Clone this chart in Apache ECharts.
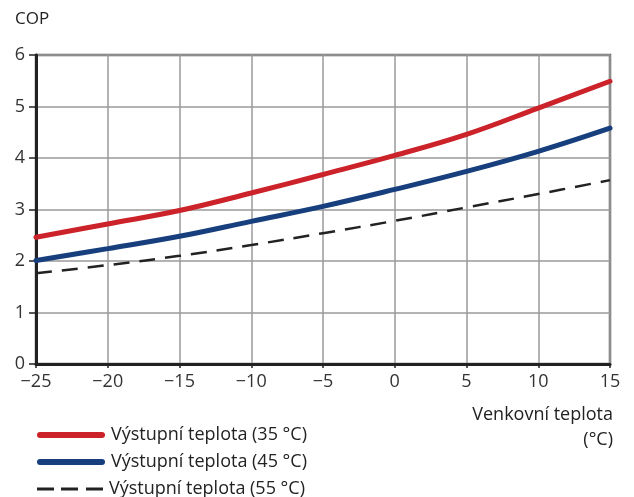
<!DOCTYPE html>
<html>
<head>
<meta charset="utf-8">
<script src="https://cdn.jsdelivr.net/npm/echarts@6/dist/echarts.min.js"></script>
<style>
  html, body { margin: 0; padding: 0; background: #fff; }
  #chart { width: 634px; height: 497px; }
</style>
</head>
<body>
<div id="chart"></div>
<script>
// Outdoor temperature (°C) and COP for three flow temperatures
const temps = [-25, -20, -15, -10, -5, 0, 5, 10, 15];
const cop35 = [2.46, 2.72, 2.98, 3.32, 3.68, 4.05, 4.46, 4.97, 5.49];
const cop45 = [2.01, 2.24, 2.48, 2.77, 3.06, 3.39, 3.74, 4.13, 4.58];
const cop55 = [1.76, 1.92, 2.10, 2.31, 2.54, 2.78, 3.04, 3.30, 3.57];
const yTicks = [0, 1, 2, 3, 4, 5, 6];
const seriesNames = ['Výstupní teplota (35 °C)', 'Výstupní teplota (45 °C)', 'Výstupní teplota (55 °C)'];
const seriesColors = ['#cc2229', '#173f7d', '#222222'];
const xCaption = 'Venkovní teplota\n(°C)';

const font = '"Open Sans", "DejaVu Sans", sans-serif';
const pairs = arr => temps.map((t, i) => [t, arr[i]]);

// legend swatches: a rounded bar for solid lines, three dashes for the dashed one
const solidIcon = 'path://M3,0H65A3,3,0,0,1,65,6H3A3,3,0,0,1,3,0Z';
const dashIcon = 'path://M0,0h17v3h-17z M24,0h17v3h-17z M49,0h17v3h-17z';

// one legend row per series, stacked under the plot
const legendRows = seriesNames.map((name, i) => ({
  orient: 'horizontal', left: 32, top: 421 + i * 27,
  itemWidth: i === 2 ? 66 : 68, itemHeight: i === 2 ? 3 : 6, itemGap: 0,
  textStyle: { fontFamily: font, fontSize: 18, color: '#222', padding: [0, 0, 0, 1] },
  data: [{
    name: name,
    icon: i === 2 ? dashIcon : solidIcon,
    itemStyle: { color: seriesColors[i], borderWidth: 0 }
  }]
}));

const chart = echarts.init(document.getElementById('chart'), null, { renderer: 'canvas' });
chart.setOption({
  animation: false,
  textStyle: { fontFamily: font },
  grid: {
    left: 36, right: 24, top: 55, bottom: 133,
    outerBoundsMode: 'none',
    show: true, borderColor: '#666', borderWidth: 2.5, backgroundColor: 'transparent'
  },
  title: {
    text: 'COP', left: 10, top: 6,
    textStyle: { fontFamily: font, fontSize: 17, fontWeight: 'normal', color: '#222' }
  },
  graphic: [{
    // x-axis caption, right-aligned under the end of the axis
    type: 'text', x: 613, y: 402,
    style: {
      text: xCaption, align: 'right', verticalAlign: 'top',
      font: '18px ' + font, fill: '#222', lineHeight: 25
    }
  }],
  xAxis: {
    type: 'value', min: -25, max: 15, interval: 5,
    axisLine: { show: true, onZero: false, lineStyle: { color: '#222', width: 3 } },
    axisTick: { show: true, length: 4, lineStyle: { color: '#222', width: 1.5 } },
    axisLabel: {
      fontFamily: font, fontSize: 18, color: '#333', margin: 9,
      formatter: v => (v < 0 ? '\u2212' + Math.abs(v) : String(v))
    },
    splitLine: { show: true, lineStyle: { color: '#9a9a9a', width: 1.5 } }
  },
  yAxis: {
    type: 'value', min: 0, max: 6, interval: 1,
    axisLine: { show: true, onZero: false, lineStyle: { color: '#222', width: 3 } },
    axisTick: { show: true, length: 7, lineStyle: { color: '#222', width: 1.5 } },
    axisLabel: {
      fontFamily: font, fontSize: 18, color: '#333', margin: 11,
      formatter: v => (yTicks.includes(v) ? String(v) : '')
    },
    splitLine: { show: true, lineStyle: { color: '#9a9a9a', width: 1.5 } }
  },
  legend: legendRows,
  series: [
    {
      name: seriesNames[0], type: 'line', smooth: 0.4, symbol: 'none',
      data: pairs(cop35), z: 5,
      lineStyle: { color: seriesColors[0], width: 5, cap: 'round' },
      itemStyle: { color: seriesColors[0] }
    },
    {
      name: seriesNames[1], type: 'line', smooth: 0.4, symbol: 'none',
      data: pairs(cop45), z: 5,
      lineStyle: { color: seriesColors[1], width: 5, cap: 'round' },
      itemStyle: { color: seriesColors[1] }
    },
    {
      name: seriesNames[2], type: 'line', smooth: 0.4, symbol: 'none',
      data: pairs(cop55), z: 4,
      lineStyle: { color: seriesColors[2], width: 2.5, type: [16, 10] },
      itemStyle: { color: seriesColors[2] }
    }
  ]
});
</script>
</body>
</html>
